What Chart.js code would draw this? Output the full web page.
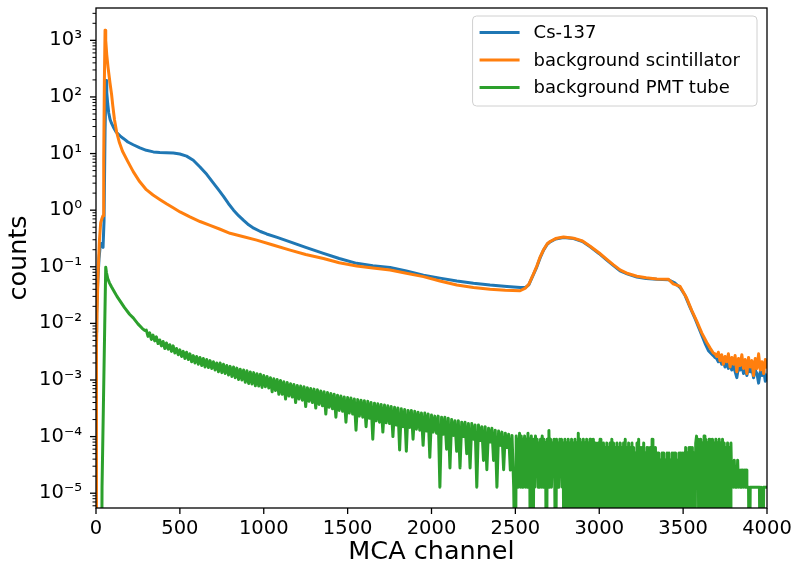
<!DOCTYPE html>
<html>
<head>
<meta charset="utf-8">
<title>MCA spectrum</title>
<script src="https://cdn.jsdelivr.net/npm/chart.js@4.4.0/dist/chart.umd.min.js"></script>
<style>
  html, body { margin: 0; padding: 0; background: #ffffff; }
  #wrap { width: 791px; height: 569px; }
</style>
</head>
<body>
<div id="wrap"><canvas id="spectrum" width="791" height="569"></canvas></div>
<script>
// ---- data ----
const xTickValues = [0, 500, 1000, 1500, 2000, 2500, 3000, 3500, 4000];

const seriesLabels = ["Cs-137", "background scintillator", "background PMT tube"];
const seriesColors = ["#1f77b4", "#ff7f0e", "#2ca02c"];

// Cs-137 (blue)
const csChannels = [
  0, 4, 10, 18, 26, 34, 42, 48, 54, 60, 64, 70, 76, 84, 93, 103, 120, 143, 163, 190,
  222, 262, 300, 342, 380, 420, 461, 500, 540, 580, 620, 660, 700, 730, 760, 790, 820, 850, 880, 910,
  940, 980, 1017, 1080, 1157, 1250, 1356, 1450, 1554, 1650, 1753, 1850, 1952, 2050, 2151, 2250, 2349, 2450, 2530, 2560,
  2580, 2600, 2628, 2648, 2668, 2690, 2707, 2740, 2787, 2847, 2900, 2946, 3000, 3045, 3085, 3124, 3170, 3224, 3280, 3343,
  3413, 3450, 3482, 3512, 3542, 3572, 3602, 3630, 3651, 3680,
  3690, 3700, 3710, 3720, 3730, 3740, 3750, 3760, 3770, 3780, 3790, 3800, 3810, 3820, 3830, 3840,
  3850, 3860, 3870, 3880, 3890, 3900, 3910, 3920, 3930, 3940, 3950, 3960, 3970, 3980, 3990, 4000,
];
const csCounts = [
  0.007, 0.015, 0.05, 0.14, 0.25, 0.26, 0.22, 0.66, 25, 195, 120, 75, 52, 40, 34, 29.5, 24, 20.5, 18.5, 16,
  14.3, 12.6, 11.4, 10.7, 10.4, 10.3, 10.2, 9.8, 9.0, 7.6, 5.8, 4.3, 3.0, 2.3, 1.75, 1.3, 1.0, 0.8, 0.66, 0.55,
  0.48, 0.42, 0.38, 0.33, 0.276, 0.22, 0.172, 0.14, 0.115, 0.104, 0.097, 0.084, 0.071, 0.063, 0.056, 0.051, 0.0475, 0.045, 0.043, 0.043,
  0.048, 0.065, 0.1, 0.145, 0.197, 0.25, 0.276, 0.31, 0.33, 0.315, 0.28, 0.225, 0.17, 0.131, 0.105, 0.085, 0.074, 0.066, 0.062, 0.06,
  0.059, 0.052, 0.043, 0.031, 0.019, 0.012, 0.0072, 0.0045, 0.0033, 0.0027,
  0.0025, 0.0024, 0.0021, 0.0023, 0.0019, 0.0021, 0.0017, 0.002, 0.0016, 0.0019, 0.0015, 0.0018, 0.0014, 0.0011, 0.0017, 0.0015,
  0.0018, 0.0013, 0.0016, 0.0012, 0.0017, 0.0014, 0.0016, 0.0011, 0.0015, 0.0013, 0.00088, 0.0014, 0.0012, 0.0015, 0.00095, 0.0013,
];

// background scintillator (orange)
const scintChannels = [
  0, 3, 6, 12, 20, 28, 36, 42, 46, 50, 54, 58, 64, 72, 83, 93, 100, 110, 123, 140,
  158, 190, 222, 260, 300, 340, 380, 420, 460, 501, 560, 620, 680, 740, 799, 880, 958, 1050, 1157, 1250,
  1356, 1450, 1554, 1650, 1753, 1850, 1952, 2050, 2151, 2250, 2349, 2440, 2528, 2560, 2580, 2600, 2628, 2648, 2668, 2690,
  2707, 2740, 2787, 2847, 2900, 2946, 3000, 3045, 3085, 3124, 3170, 3224, 3280, 3343, 3413, 3441, 3482, 3521, 3551, 3581,
  3611, 3641, 3660, 3680,
  3690, 3700, 3710, 3720, 3730, 3740, 3750, 3760, 3770, 3780, 3790, 3800, 3810, 3820, 3830, 3840,
  3850, 3860, 3870, 3880, 3890, 3900, 3910, 3920, 3930, 3940, 3950, 3960, 3970, 3980, 3990, 4000,
];
const scintCounts = [
  4e-6, 0.004, 0.015, 0.07, 0.28, 0.6, 0.72, 0.8, 8, 200, 1500, 1000, 560, 330, 180, 110, 70, 40, 24, 15.5,
  11, 7.2, 4.8, 3.2, 2.3, 1.85, 1.55, 1.3, 1.1, 0.93, 0.76, 0.63, 0.54, 0.46, 0.39, 0.34, 0.296, 0.245, 0.197, 0.165,
  0.14, 0.118, 0.103, 0.095, 0.0875, 0.077, 0.067, 0.056, 0.0475, 0.043, 0.04, 0.0385, 0.0377, 0.042, 0.049, 0.066, 0.103, 0.15, 0.2, 0.255,
  0.28, 0.315, 0.335, 0.32, 0.285, 0.23, 0.175, 0.135, 0.108, 0.088, 0.076, 0.068, 0.064, 0.061, 0.06, 0.05, 0.045, 0.028, 0.017, 0.011,
  0.0068, 0.0046, 0.0037, 0.003,
  0.0029, 0.0026, 0.0031, 0.0022, 0.0028, 0.0019, 0.0026, 0.0021, 0.0029, 0.0017, 0.0025, 0.0019, 0.0027, 0.0014, 0.0024, 0.0018,
  0.0028, 0.0016, 0.0023, 0.0013, 0.0025, 0.0017, 0.0022, 0.0012, 0.0024, 0.0016, 0.0029, 0.0015, 0.0021, 0.0013, 0.0023, 0.0016,
];

// background PMT tube (green): rising edge + decay, listed channel by channel
const pmtHeadChannels = [0, 33, 36, 44, 52, 58, 62, 70, 80, 93, 110, 125, 143, 170, 200, 222, 250, 275, 290];
const pmtHeadCounts = [1e-7, 1e-7, 1.3e-5, 3.4e-4, 0.009, 0.098, 0.08, 0.062, 0.052, 0.044, 0.036, 0.03, 0.025, 0.019, 0.0145, 0.0125, 0.0098, 0.0082, 0.0075];

// noisy part, one value every 10 channels from channel 300 to 2490
const PMT_MID_START = 300;
const PMT_MID_STEP = 10;
const pmtMidCounts = [
  0.0076, 0.0059, 0.0068, 0.0052, 0.0062, 0.0049, 0.0058, 0.0044, 0.0051, 0.0040,
  0.0048, 0.0036, 0.0045, 0.0035, 0.0042, 0.0032, 0.0040, 0.0030, 0.0036, 0.0028,
  0.0034, 0.0026, 0.0032, 0.0024, 0.0031, 0.0023, 0.0029, 0.0021, 0.0027, 0.0020,
  0.0026, 0.0019, 0.0025, 0.0018, 0.0024, 0.0017, 0.0023, 0.00166, 0.0022, 0.0016,
  0.0021, 0.0015, 0.0020, 0.0014, 0.0020, 0.00135, 0.0019, 0.0013, 0.0018, 0.00123,
  0.00174, 0.00115, 0.0017, 0.0011, 0.00162, 0.00102, 0.00155, 0.0010, 0.0015, 0.00091,
  0.00145, 0.00087, 0.00138, 0.00085, 0.00135, 0.00079, 0.00129, 0.00078, 0.00126, 0.00074,
  0.0012, 0.00076, 0.00115, 0.00072, 0.0011, 0.00062, 0.00105, 0.00065, 0.00102, 0.00056,
  0.00098, 0.00056, 0.00093, 0.00046, 0.0009, 0.00052, 0.00086, 0.0005, 0.00083, 0.0004,
  0.0008, 0.00046, 0.00078, 0.00044, 0.00076, 0.00034, 0.00073, 0.00042, 0.00071, 0.0004,
  0.00069, 0.00032, 0.00067, 0.00037, 0.00064, 0.00035, 0.00062, 0.00025, 0.0006, 0.00033,
  0.00058, 0.00031, 0.00056, 0.00022, 0.00054, 0.00029, 0.00052, 0.00028, 0.0005, 0.00018,
  0.00049, 0.00026, 0.00048, 0.00025, 0.00046, 0.00013, 0.00045, 0.00023, 0.00044, 0.00022,
  0.00043, 0.00015, 0.00042, 0.00021, 0.0004, 0.00009, 0.00039, 0.00019, 0.00038, 0.00018,
  0.00037, 0.00012, 0.00036, 0.000175, 0.00035, 0.00017, 0.00034, 0.0001, 0.00033, 0.00016,
  0.00032, 0.000058, 0.00031, 0.00015, 0.0003, 0.000055, 0.00029, 0.000145, 0.00029, 0.00009,
  0.00028, 0.000135, 0.00027, 0.00013, 0.00026, 0.00007, 0.00026, 0.000125, 0.00025, 0.000043,
  0.00024, 0.00012, 0.00023, 0.000115, 0.00023, 1.28e-5, 0.00022, 0.00011, 0.00022, 0.00006,
  0.00021, 2.8e-5, 0.0002, 0.000105, 0.00019, 0.000055, 0.00019, 2.8e-5, 0.00018, 0.0001,
  0.00018, 0.00005, 0.00017, 2.8e-5, 0.00017, 0.00009, 0.00016, 1.28e-5, 0.00016, 0.000085,
  0.00015, 0.000038, 0.00015, 2.6e-5, 0.00014, 0.00008, 0.00014, 0.000038, 0.00013, 1.28e-5,
  0.000125, 0.00007, 0.00012, 2.6e-5, 0.000115, 0.000064, 0.00011, 2.56e-5, 0.000105, 1.28e-5,
];

// single-count region, one value every 5 channels from 2500 to 4000
// levels are whole counts (n * 1.28e-5); Z = zero counts, below the axis
const Z = 1e-7;
const L1 = 1.28e-5, L2 = 2.56e-5, L3 = 3.84e-5, L4 = 5.12e-5, L5 = 6.4e-5;
const L6 = 7.68e-5, L7 = 8.96e-5, L8 = 1.02e-4, L9 = 1.15e-4, L10 = 1.28e-4;
const PMT_FAR_START = 2500;
const PMT_FAR_STEP = 5;
const pmtFarCounts = [
  Z, L8, L1, L7, L2, L9, L1, L8, L1, L7,
  L2, L8, L1, L7, L1, L9, L1, L7, Z, L8,
  L1, Z, L7, L1, L8, L2, L7, L1, L6, L1,
  L7, L1, L8, L1, L7, L2, L6, Z, L7, L1,
  L10, L1, L7, L1, L6, L2, L7, L1, Z, L7,
  L1, L6, L1, L7, L2, L7, L1, L6, Z, L7,
  Z, L6, Z, L7, Z, L6, L1, L7, Z, L6,
  Z, L7, Z, L6, Z, L9, Z, L7, Z, L6,
  Z, L7, L1, L6, Z, L7, Z, L6, Z, L7,
  L1, L6, Z, L7, Z, L6, Z, L5, Z, L6,
  L1, L7, Z, L6, Z, L6, L1, L5, Z, L6,
  Z, L5, L1, L6, Z, L7, Z, L6, Z, L5,
  Z, L6, Z, L5, Z, L6, Z, L5, Z, L6,
  Z, L7, Z, L5, Z, L6, Z, L5, Z, L6,
  Z, L5, Z, L4, Z, L6, Z, L7, Z, L5,
  Z, L5, Z, L6, Z, L4, Z, L5, Z, L4,
  Z, L5, Z, L7, Z, L4, Z, L5, Z, L4,
  Z, L4, Z, L3, Z, L4, Z, L4, Z, L3,
  Z, L4, Z, L4, Z, L3, Z, L4, Z, L4,
  Z, L4, Z, L3, Z, L4, Z, L4, Z, L4,
  Z, L4, Z, L5, Z, L4, L1, L5, Z, L5,
  L1, L5, Z, L4, Z, L6, L8, L1, L7, Z,
  L1, L7, Z, L6, Z, L8, L1, L7, Z, L6,
  L1, L7, Z, L6, Z, L7, Z, L6, Z, L7,
  L1, L6, Z, L7, L1, L6, Z, L7, Z, L6,
  Z, L5, Z, L6, L1, L5, Z, L6, L1, L2,
  L1, L3, L1, L2, L1, L3, L1, L2, L1, L2,
  L1, L2, L1, L2, L1, L2, L1, L1, L1, Z,
  L1, L1, L1, L1, L1, L1, L1, L1, L1, L1,
  L1, L1, Z, L1, L1, Z, L1, L1, L1, L1,
  L1,
];

// ---- build points ----
function toPoints(channels, counts) {
  return channels.map((ch, i) => ({ x: ch, y: counts[i] }));
}

function gridPoints(start, step, counts) {
  return counts.map((v, i) => ({ x: start + i * step, y: v }));
}

function pmtPoints() {
  return toPoints(pmtHeadChannels, pmtHeadCounts)
    .concat(gridPoints(PMT_MID_START, PMT_MID_STEP, pmtMidCounts))
    .concat(gridPoints(PMT_FAR_START, PMT_FAR_STEP, pmtFarCounts));
}

const SUPERSCRIPTS = { "-": "\u207B", "0": "\u2070", "1": "\u00B9", "2": "\u00B2", "3": "\u00B3",
  "4": "\u2074", "5": "\u2075", "6": "\u2076", "7": "\u2077", "8": "\u2078", "9": "\u2079" };

function powerLabel(value) {
  const e = Math.log10(value);
  const r = Math.round(e);
  if (Math.abs(e - r) > 1e-6) {
    return "";
  }
  return "10" + String(r).split("").map((c) => SUPERSCRIPTS[c]).join("");
}

const FONT = "'DejaVu Sans', 'Liberation Sans', sans-serif";

// frame, outward tick marks and the legend box, drawn matplotlib style
const decorPlugin = {
  id: "decor",
  afterDraw(chart) {
    const { ctx, chartArea } = chart;
    const { left, right, top, bottom } = chartArea;
    const xs = chart.scales.x;
    const ys = chart.scales.y;
    ctx.save();
    ctx.strokeStyle = "#000000";

    // y ticks: major on decades, minor on 2..9
    for (let e = -6; e <= 4; e++) {
      for (let m = 1; m <= 9; m++) {
        const v = m * Math.pow(10, e);
        if (v < ys.min || v > ys.max) continue;
        const y = ys.getPixelForValue(v);
        const len = m === 1 ? 6 : 3.5;
        ctx.lineWidth = m === 1 ? 1.3 : 1;
        ctx.beginPath();
        ctx.moveTo(left - len, y);
        ctx.lineTo(left, y);
        ctx.stroke();
      }
    }
    ctx.lineWidth = 1.3;
    xTickValues.forEach((v) => {
      const x = xs.getPixelForValue(v);
      ctx.beginPath();
      ctx.moveTo(x, bottom);
      ctx.lineTo(x, bottom + 6);
      ctx.stroke();
    });

    ctx.lineWidth = 1.3;
    ctx.strokeRect(left, top, right - left, bottom - top);

    // legend
    ctx.font = "18px " + FONT;
    const textW = Math.max(...seriesLabels.map((t) => ctx.measureText(t).width));
    const boxW = 61 + textW + 17;
    const boxH = 90;
    const bx = right - 10 - boxW;
    const by = top + 8;
    ctx.beginPath();
    ctx.roundRect(bx, by, boxW, boxH, 4);
    ctx.fillStyle = "rgba(255,255,255,0.8)";
    ctx.fill();
    ctx.strokeStyle = "#d0d0d0";
    ctx.lineWidth = 1;
    ctx.stroke();
    ctx.textBaseline = "middle";
    ctx.textAlign = "left";
    seriesLabels.forEach((label, i) => {
      const y = by + 16.5 + i * 27.5;
      ctx.strokeStyle = seriesColors[i];
      ctx.lineWidth = 2.9;
      ctx.beginPath();
      ctx.moveTo(bx + 7, y);
      ctx.lineTo(bx + 47, y);
      ctx.stroke();
      ctx.fillStyle = "#000000";
      ctx.fillText(label, bx + 61, y + 1);
    });
    ctx.restore();
  },
};

function lineDataset(index, data, order) {
  return {
    label: seriesLabels[index],
    data,
    borderColor: seriesColors[index],
    backgroundColor: seriesColors[index],
    borderWidth: 3,
    borderJoinStyle: "round",
    pointRadius: 0,
    tension: 0,
    fill: false,
    order,
  };
}

new Chart(document.getElementById("spectrum"), {
  type: "line",
  data: {
    datasets: [
      lineDataset(0, toPoints(csChannels, csCounts), 3),
      lineDataset(1, toPoints(scintChannels, scintCounts), 2),
      lineDataset(2, pmtPoints(), 1),
    ],
  },
  options: {
    responsive: false,
    animation: false,
    layout: { padding: { top: 8, right: 24, left: 0, bottom: 0 } },
    plugins: {
      legend: { display: false },
      tooltip: { enabled: false },
    },
    scales: {
      x: {
        type: "linear",
        min: 0,
        max: 4000,
        afterBuildTicks: (scale) => {
          scale.ticks = xTickValues.map((v) => ({ value: v }));
        },
        ticks: {
          callback: (v) => String(v),
          font: { family: FONT, size: 19.5 },
          color: "#000000",
          padding: 9,
          maxRotation: 0,
          autoSkip: false,
        },
        grid: { display: false, drawTicks: false },
        border: { display: false },
        title: {
          display: true,
          text: "MCA channel",
          font: { family: FONT, size: 25.5 },
          color: "#000000",
          padding: { top: 0, bottom: 1 },
        },
        afterFit: (scale) => {
          scale.height = 61;
          scale.paddingLeft = 0;
          scale.paddingRight = 0;
        },
      },
      y: {
        type: "logarithmic",
        min: 5.48e-6,
        max: 3726,
        ticks: {
          callback: (v) => powerLabel(v),
          font: { family: FONT, size: 19.5 },
          color: "#000000",
          padding: 14,
          autoSkip: false,
        },
        grid: { display: false, drawTicks: false },
        border: { display: false },
        title: {
          display: true,
          text: "counts",
          font: { family: FONT, size: 25.5 },
          color: "#000000",
          padding: { top: 4, bottom: 0 },
        },
        afterFit: (scale) => {
          scale.width = 96;
          scale.paddingTop = 0;
          scale.paddingBottom = 0;
        },
      },
    },
  },
  plugins: [decorPlugin],
});
</script>
</body>
</html>
